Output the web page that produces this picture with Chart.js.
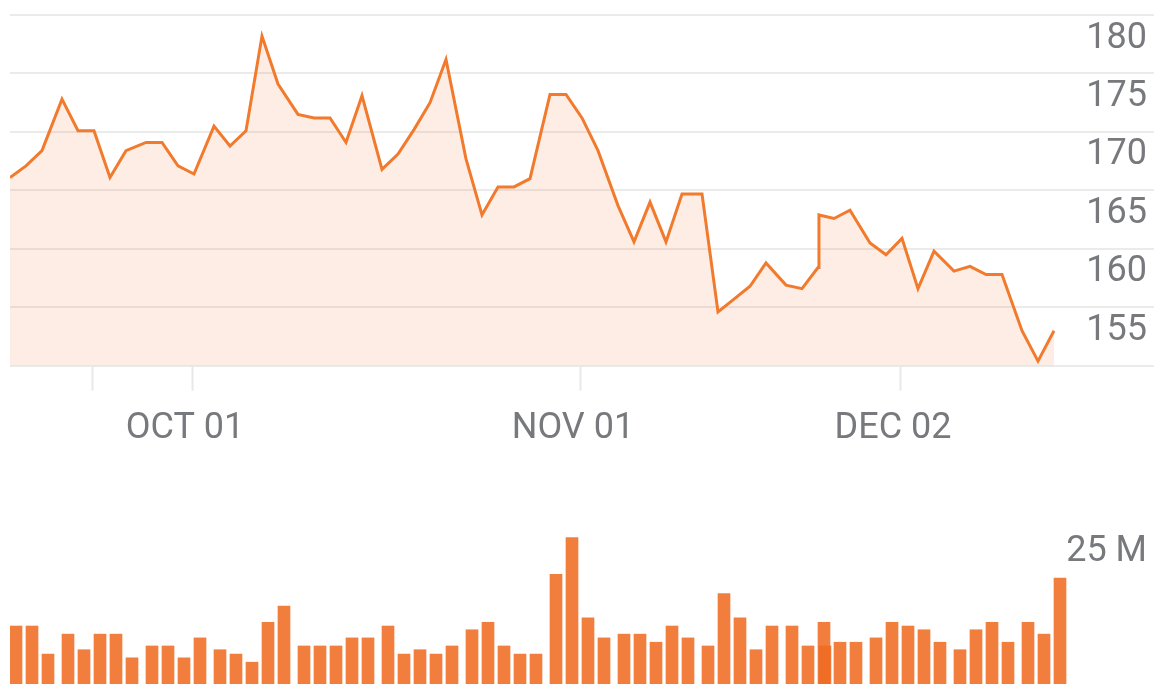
<!DOCTYPE html>
<html>
<head>
<meta charset="utf-8">
<script src="https://cdn.jsdelivr.net/npm/chart.js@4.4.1/dist/chart.umd.min.js"></script>
<style>
  body { margin: 0; background: #fff; overflow: hidden; width: 1154px; height: 684px; position: relative; }
  #priceCanvas { position: absolute; left: 0; top: 0; }
  #volCanvas { position: absolute; left: 0; top: 497px; }
</style>
</head>
<body>
<canvas id="priceCanvas" width="1154" height="467"></canvas>
<canvas id="volCanvas" width="1154" height="187"></canvas>
<script>
// trading sessions, in trading-day units (weekends squeezed to a quarter day)
var sessions = [
  0, 1, 2,
  3.25, 4.25, 5.25, 6.25, 7.25,
  8.5, 9.5, 10.5, 11.5,
  12.75, 13.75, 14.75, 15.75, 16.75,
  18, 19, 20, 21, 22,
  23.25, 24.25, 25.25, 26.25, 27.25,
  28.5, 29.5, 30.5, 31.5, 32.5,
  33.75, 34.75, 35.75, 36.75,
  38, 39, 40, 41, 42,
  43.25, 44.25, 45.25, 46.25, 47.25,
  48.5, 49.5, 50.5, 50.56, 51.5, 52.5,
  53.75, 54.75, 55.75, 56.75, 57.75,
  59, 60, 61, 62,
  63.25, 64.25, 65.25
];

// closing price
var price = [
  166.1, 167.1, 168.4,
  172.8, 170.1, 170.1, 166.1, 168.4,
  169.1, 169.1, 167.1, 166.4,
  170.5, 168.8, 170.1, 178.2, 174.1,
  171.5, 171.2, 171.2, 169.1, 173.1,
  166.8, 168.1, 170.2, 172.5, 176.2,
  167.7, 162.9, 165.3, 165.3, 166.0,
  173.2, 173.2, 171.2, 168.4,
  163.7, 160.6, 164.0, 160.6, 164.7,
  164.7, 154.6, 155.7, 156.8, 158.8,
  156.9, 156.6, 158.4, 162.9, 162.6, 163.3,
  160.5, 159.5, 160.9, 156.6, 159.8,
  158.1, 158.5, 157.8, 157.8,
  153.0, 150.4, 153.0
];

// volume, millions
var volume = [
  9.3, 9.3, 4.8,
  8.0, 5.5, 8.0, 8.0, 4.2,
  6.1, 6.1, 4.2, 7.4,
  5.5, 4.8, 3.5, 9.9, 12.5,
  6.1, 6.1, 6.1, 7.4, 7.4,
  9.3, 4.8, 5.5, 4.8, 6.1,
  8.7, 9.9, 6.1, 4.8, 4.8,
  17.6, 23.5, 10.6, 7.4,
  8.0, 8.0, 6.7, 9.3, 7.4,
  6.1, 14.5, 10.6, 5.5, 9.3,
  9.3, 6.1, 9.9, 6.1, 6.7, 6.7,
  7.4, 9.9, 9.3, 8.7, 6.7,
  5.5, 8.7, 9.9, 6.7,
  9.9, 8.0, 17.0
];

// month ticks on the date axis
var tickSessions = [5.25, 11.5, 35.75, 55.75];
var tickLabels = ['', 'OCT 01', 'NOV 01', 'DEC 02'];

var priceTicks = [150, 155, 160, 165, 170, 175, 180];
var volTick = 25;

var orange = '#f27a2d';
var gray = '#77797c';
var font = { family: 'Roboto', size: 36 };

var pricePts = [];
var volPts = [];
for (var i = 0; i < sessions.length; i++) {
  pricePts.push({ x: sessions[i], y: price[i] });
  volPts.push({ x: sessions[i], y: volume[i] });
}

// labels sit inside the plot, so no extra room is kept for them
function noPad(scale) {
  scale.paddingTop = 0;
  scale.paddingBottom = 0;
  scale.paddingLeft = 0;
  scale.paddingRight = 0;
}
function noRoom(scale) {
  noPad(scale);
  scale.width = 0;
}

new Chart(document.getElementById('priceCanvas'), {
  type: 'line',
  data: {
    datasets: [{
      data: pricePts,
      borderColor: orange,
      borderWidth: 3,
      backgroundColor: 'rgba(240,110,40,0.12)',
      fill: 'start',
      pointRadius: 0,
      tension: 0
    }]
  },
  options: {
    responsive: false,
    animation: false,
    layout: { padding: { left: 10, top: 15, right: 0, bottom: 0 } },
    plugins: { legend: { display: false }, tooltip: { enabled: false } },
    scales: {
      x: {
        type: 'linear',
        min: 0,
        max: 71.5,
        afterBuildTicks: function (scale) {
          scale.ticks = tickSessions.map(function (v) { return { value: v - 0.125 }; });
        },
        afterFit: noPad,
        ticks: {
          autoSkip: false,
          maxRotation: 0,
          padding: 16.5,
          labelOffset: -7,
          color: gray,
          font: font,
          callback: function (v, idx) { return tickLabels[idx]; }
        },
        grid: {
          drawOnChartArea: false,
          drawTicks: true,
          tickLength: 25,
          tickWidth: 2,
          tickColor: '#e8e8e8'
        },
        border: { display: false }
      },
      y: {
        position: 'right',
        min: 150,
        max: 180,
        afterBuildTicks: function (scale) {
          scale.ticks = priceTicks.map(function (v) { return { value: v }; });
        },
        afterFit: noRoom,
        ticks: {
          mirror: true,
          padding: -7,
          labelOffset: 23.5,
          color: gray,
          font: font,
          callback: function (v) { return v == 150 ? '' : v; }
        },
        grid: {
          color: '#ebebeb',
          lineWidth: 2,
          drawTicks: false
        },
        border: { display: false }
      }
    }
  }
});

new Chart(document.getElementById('volCanvas'), {
  type: 'bar',
  data: {
    datasets: [{
      data: volPts,
      backgroundColor: 'rgba(240,108,35,0.88)',
      barThickness: 12
    }]
  },
  options: {
    responsive: false,
    animation: false,
    layout: { padding: { left: 10, top: 0, right: 0, bottom: 0 } },
    plugins: { legend: { display: false }, tooltip: { enabled: false } },
    scales: {
      x: {
        type: 'linear',
        display: false,
        offset: false,
        min: -0.375,
        max: 71.125
      },
      y: {
        position: 'right',
        min: 0,
        max: 30,
        afterBuildTicks: function (scale) {
          scale.ticks = [{ value: volTick }];
        },
        afterFit: noRoom,
        ticks: {
          mirror: true,
          padding: -7,
          labelOffset: 23.5,
          color: gray,
          font: font,
          callback: function (v) { return v + ' M'; }
        },
        grid: { display: false },
        border: { display: false }
      }
    }
  }
});
</script>
</body>
</html>
